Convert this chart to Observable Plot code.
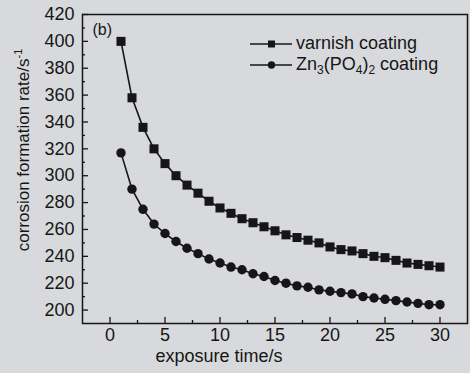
<!DOCTYPE html>
<html>
<head>
<meta charset="utf-8">
<script src="https://cdn.jsdelivr.net/npm/d3@7"></script>
<script src="https://cdn.jsdelivr.net/npm/@observablehq/plot@0.6"></script>
<style>
  html, body { margin: 0; padding: 0; background: #d8d9dc; }
  #wrap { position: relative; width: 470px; height: 373px; font-family: "Liberation Sans", Arial, sans-serif; color: #161616; }
  #legend { position: absolute; left: 250px; top: 33px; font-size: 18px; line-height: 21px; }
  #legend .row { display: flex; align-items: center; height: 21px; white-space: nowrap; }
  #legend svg { margin-right: 4px; }
  #legend sub { font-size: 12px; vertical-align: -4px; line-height: 0; }
</style>
</head>
<body>
<div id="wrap"></div>
<script>
const time = [1,2,3,4,5,6,7,8,9,10,11,12,13,14,15,16,17,18,19,20,21,22,23,24,25,26,27,28,29,30];
const varnish = [400,358,336,320,309,300,293,287,281,276,272,268,265,262,259,256,254,252,250,247,245,244,242,240,239,237,235,234,233,232];
const zinc = [317,290,275,264,257,251,246,242,238,235,232,230,227,225,222,220,218,217,215,214,213,212,210,209,208,207,206,205,204,204];
const xTicks = [0,5,10,15,20,25,30];
const xMinor = [2.5,7.5,12.5,17.5,22.5,27.5];
const yTicks = [200,220,240,260,280,300,320,340,360,380,400,420];
const yMinor = [210,230,250,270,290,310,330,350,370,390,410];
const seriesNames = ["varnish coating", "Zn3(PO4)2 coating"];

const ink = "#161616";
const varData = time.map((t, i) => ({t, v: varnish[i]}));
const znData = time.map((t, i) => ({t, v: zinc[i]}));

const chart = Plot.plot({
  width: 470,
  height: 373,
  marginLeft: 82,
  marginRight: 3,
  marginTop: 14,
  marginBottom: 50,
  style: {background: "transparent", fontFamily: "Liberation Sans, Arial, sans-serif", fontSize: "18px", color: ink},
  x: {domain: [-2.5, 32.5]},
  y: {domain: [190, 420]},
  marks: [
    Plot.frame({stroke: ink, strokeWidth: 1.5}),
    Plot.axisY({ticks: yTicks, tickSize: -6, text: null, label: null, stroke: ink, strokeWidth: 1.3}),
    Plot.axisY({ticks: yMinor, tickSize: -3, text: null, label: null, stroke: ink, strokeWidth: 1.3}),
    Plot.axisY({ticks: yTicks, tickSize: 0, tickPadding: 8, label: null, fontSize: 18, fill: ink}),
    Plot.axisX({ticks: xTicks, tickSize: -6, text: null, label: null, stroke: ink, strokeWidth: 1.3}),
    Plot.axisX({ticks: xMinor, tickSize: -3, text: null, label: null, stroke: ink, strokeWidth: 1.3}),
    Plot.axisX({ticks: xTicks, tickSize: 0, tickPadding: 5, label: null, fontSize: 18, fill: ink}),
    Plot.line(varData, {x: "t", y: "v", stroke: ink, strokeWidth: 1.6}),
    Plot.line(znData, {x: "t", y: "v", stroke: ink, strokeWidth: 1.6}),
    Plot.dot(varData, {x: "t", y: "v", symbol: "square", r: 5.1, fill: ink, stroke: "none"}),
    Plot.dot(znData, {x: "t", y: "v", symbol: "circle", r: 4.7, fill: ink, stroke: "none"}),
    Plot.text(["(b)"], {frameAnchor: "top-left", dx: 10, dy: 15, textAnchor: "start", lineAnchor: "middle", fontSize: 16, fill: ink}),
    Plot.text(["exposure time/s"], {frameAnchor: "bottom", dx: -56, dy: 33, textAnchor: "middle", lineAnchor: "middle", fontSize: 18, fill: ink}),
    Plot.text(["corrosion formation rate/s"], {frameAnchor: "left", dx: -59, dy: -19, rotate: -90, textAnchor: "middle", lineAnchor: "middle", fontSize: 17, fill: ink, className: "ytitle"})
  ]
});

// superscript for the y-axis title
const yt = chart.querySelector(".ytitle text");
if (yt) {
  const sup = document.createElementNS("http://www.w3.org/2000/svg", "tspan");
  sup.setAttribute("dy", "-7");
  sup.setAttribute("font-size", "11");
  sup.textContent = "-1";
  yt.appendChild(sup);
}

const wrap = document.getElementById("wrap");
wrap.appendChild(chart);

const legend = document.createElement("div");
legend.id = "legend";
const sq = '<svg width="42" height="12"><line x1="0" y1="6" x2="42" y2="6" stroke="' + ink + '" stroke-width="1.6"/><rect x="18" y="2.5" width="7" height="7" fill="' + ink + '"/></svg>';
const ci = '<svg width="42" height="12"><line x1="0" y1="6" x2="42" y2="6" stroke="' + ink + '" stroke-width="1.6"/><circle cx="21.5" cy="6" r="3.7" fill="' + ink + '"/></svg>';
legend.innerHTML =
  '<div class="row">' + sq + '<span>' + seriesNames[0] + '</span></div>' +
  '<div class="row">' + ci + '<span>Zn<sub>3</sub>(PO<sub>4</sub>)<sub>2</sub> coating</span></div>';
wrap.appendChild(legend);
</script>
</body>
</html>
